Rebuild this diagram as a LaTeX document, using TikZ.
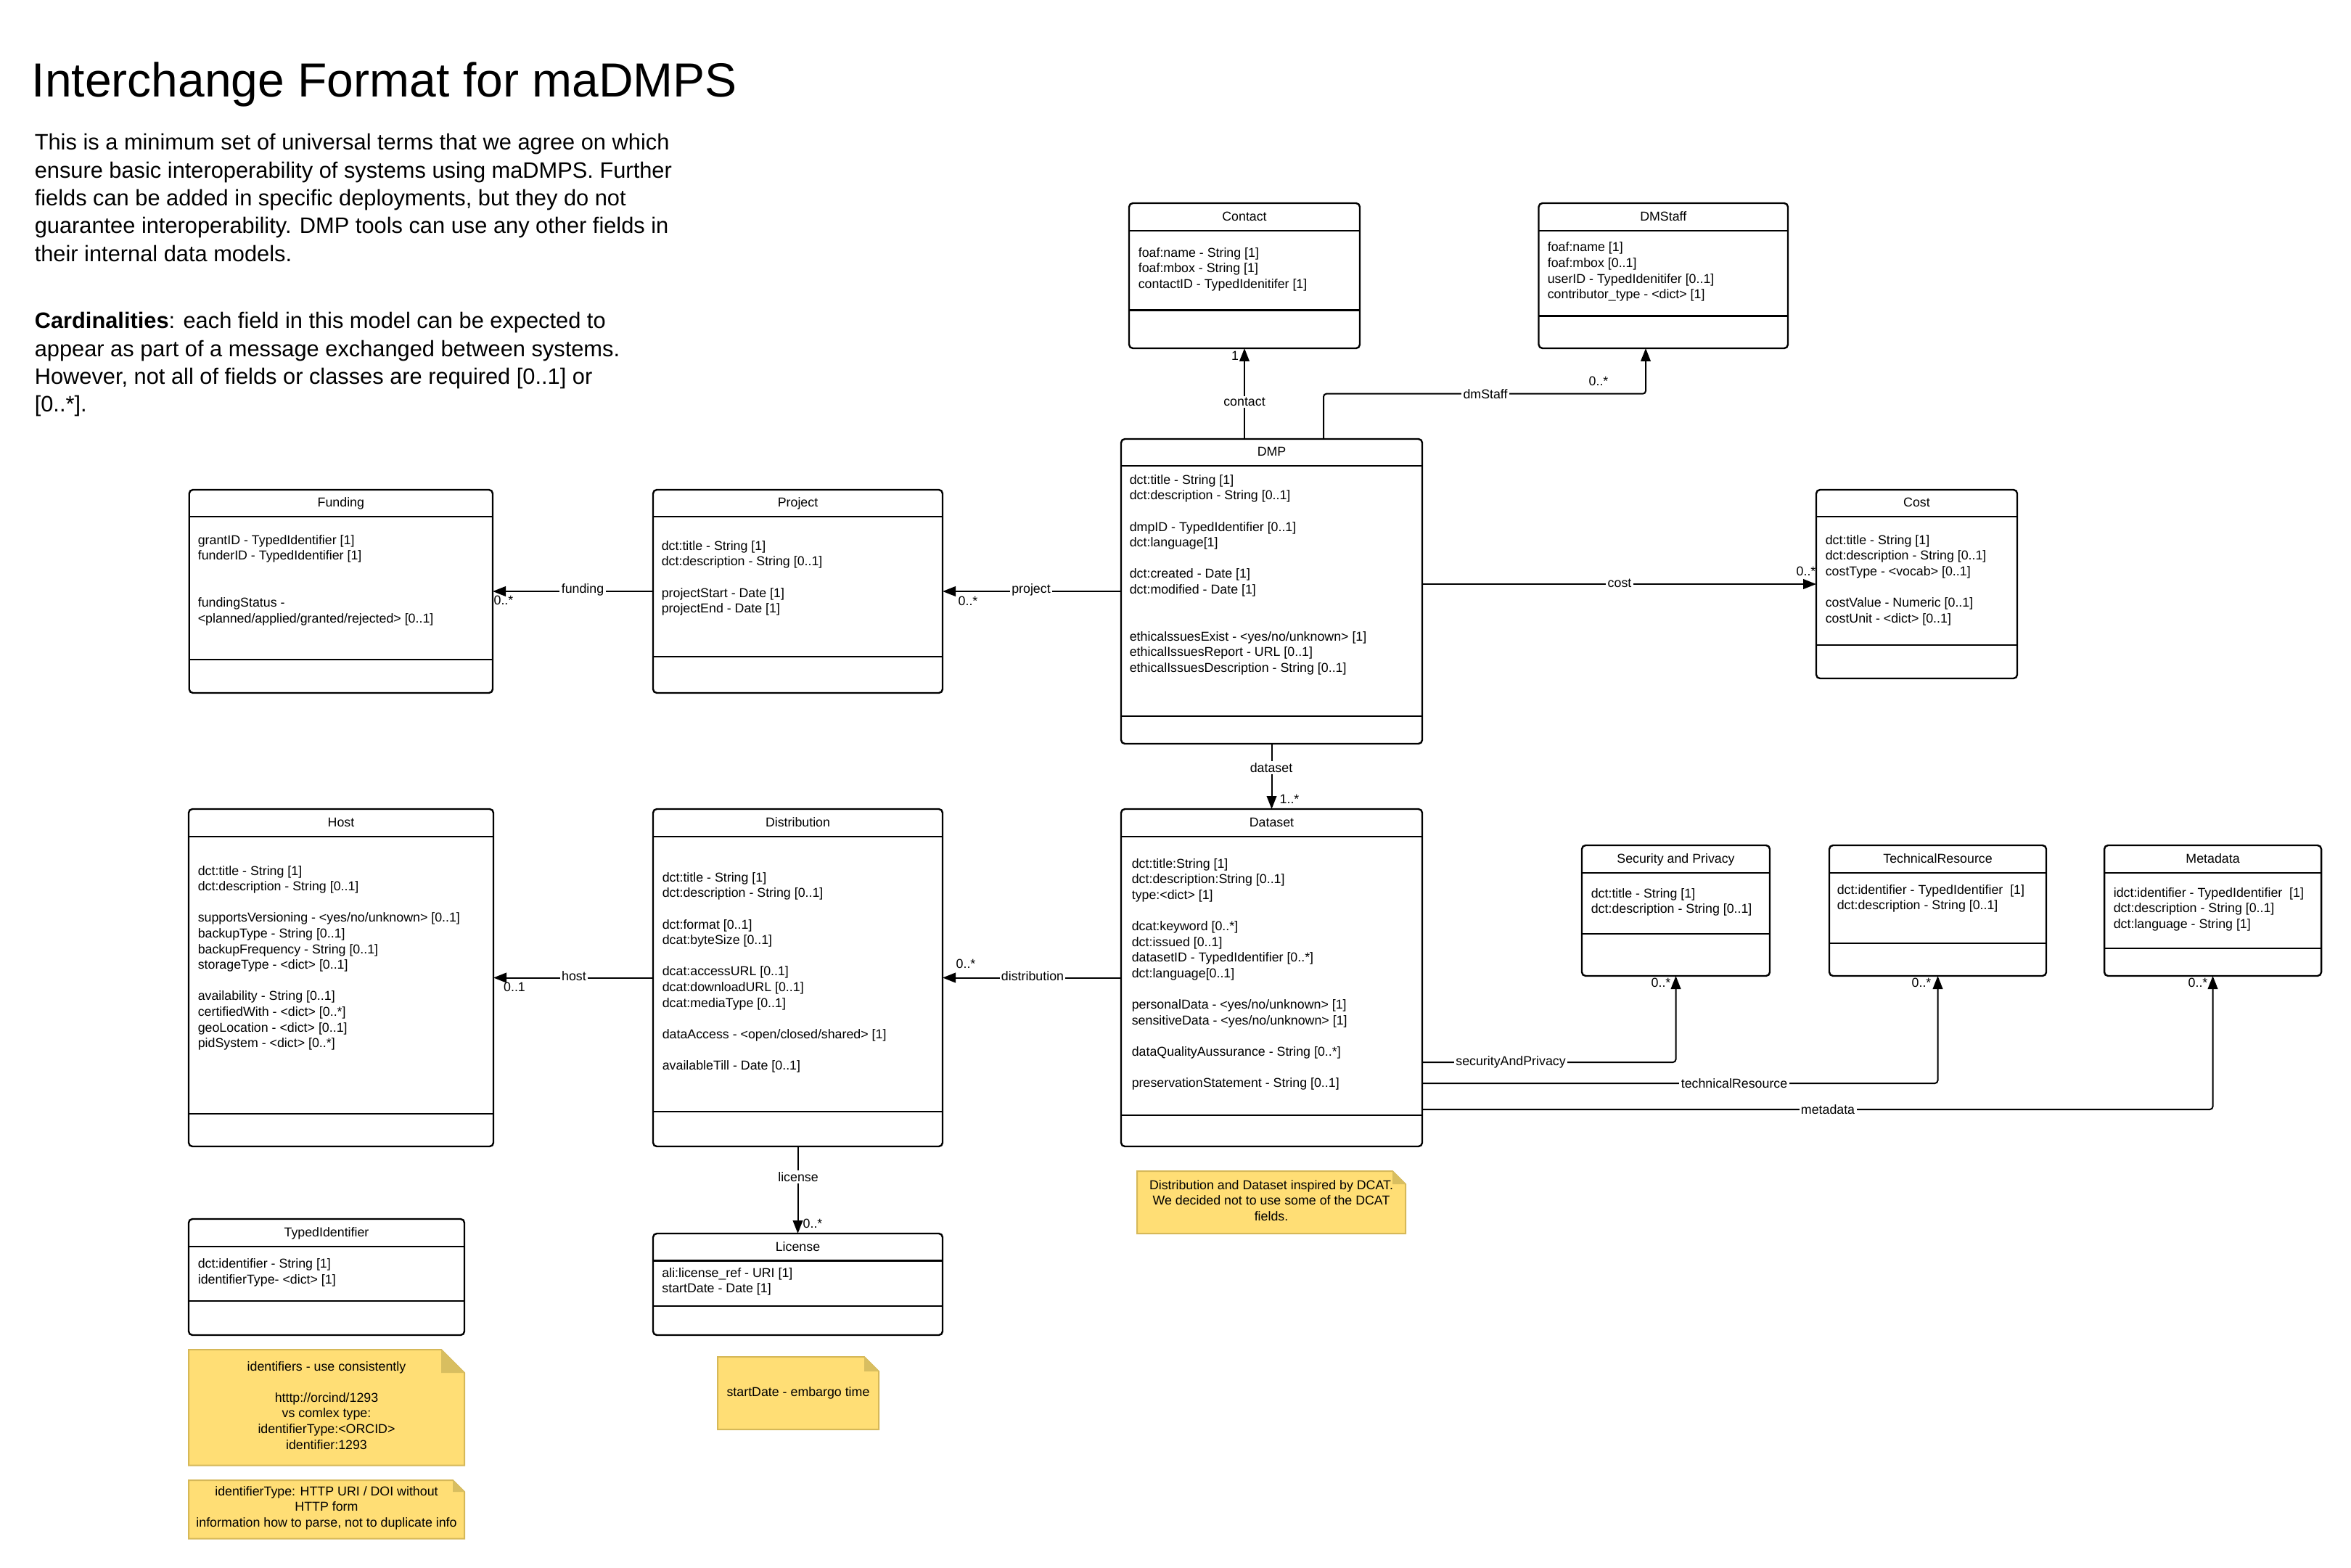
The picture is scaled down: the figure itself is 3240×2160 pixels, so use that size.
\documentclass[tikz,border=0pt]{standalone}
\usepackage{fontspec}
\setmainfont{Liberation Sans}
\usetikzlibrary{arrows.meta}
\definecolor{notefill}{RGB}{255,222,117}
\definecolor{noteborder}{RGB}{214,184,88}
\definecolor{notefold}{RGB}{216,190,96}
\newcommand{\emptyln}{\mbox{}}
\newcommand{\umlclass}[8]{%
  \pgfmathsetmacro{\myW}{(#5-#3)*0.25}%
  \pgfmathsetmacro{\myH}{(#6-#4)*0.25}%
  \node[classbox, anchor=north west, minimum width=\myW pt, minimum height=\myH pt] (#1) at (#3,#4) {};
  \draw[divline] (#3,#7) -- (#5,#7);
  \draw[divline] (#3,#8) -- (#5,#8);
  \node[ttl, anchor=base] (#1-t) at ({(#3+#5)/2},{(#4+#7)/2+5.3}) {#2};
}
\newcommand{\fieldsat}[4]{%
  \node[fld] (#1) at (#2,{#3+5.3}) {\parbox[t]{130pt}{#4}};
}
\newcommand{\notebox}[7]{%
  \path[draw=noteborder, fill=notefill, line width=0.5pt] (#2,#3) -- ({#4-#6},#3) -- (#4,{#3+#6}) -- (#4,#5) -- (#2,#5) -- cycle;
  \fill[notefold] ({#4-#6},#3) -- ({#4-#6},{#3+#6}) -- (#4,{#3+#6}) -- cycle;
  \coordinate (#1) at ({(#2+#4)/2},{(#3+#5)/2});
}
\begin{document}
\begin{tikzpicture}[x=0.25pt,y=-0.25pt,
  classbox/.style={draw, line width=0.6pt, rounded corners=1.3pt, inner sep=0pt, outer sep=0pt, fill=white},
  divline/.style={line width=0.6pt},
  ttl/.style={font=\fontsize{4.45}{5.4}\selectfont, inner sep=0pt},
  fld/.style={font=\fontsize{4.45}{5.4}\selectfont, inner sep=0pt, anchor=base west},
  conn/.style={line width=0.5pt, -{Triangle[length=4.5pt,width=3.4pt]}, rounded corners=1pt},
  lbl/.style={font=\fontsize{4.45}{5.4}\selectfont, fill=white, inner sep=0.6pt},
  card/.style={font=\fontsize{4.45}{5.4}\selectfont, inner sep=0pt},
  notetxt/.style={font=\fontsize{4.45}{5.4}\selectfont, inner sep=0pt, anchor=base}]
\fill[white] (0,0) rectangle (3240,2160);
\useasboundingbox (0,0) rectangle (3240,2160);

% heading texts
\node[anchor=base west, inner sep=0pt, font=\fontsize{16.5}{20}\selectfont] (title) at (43,134) {Interchange Format for maDMPS};
\node[anchor=base west, inner sep=0pt, font=\fontsize{7.7}{9.575}\selectfont] (intro) at (47,207) {\parbox[t]{300pt}{%
This is a minimum set of universal terms that we agree on which\\
ensure basic interoperability of systems using maDMPS. Further\\
fields can be added in specific deployments, but they do not\\
guarantee interoperability. DMP tools can use any other fields in\\
their internal data models.}};
\node[anchor=base west, inner sep=0pt, font=\fontsize{7.7}{9.575}\selectfont] (cardin) at (47,453) {\parbox[t]{300pt}{%
\textbf{Cardinalities}: each field in this model can be expected to\\
appear as part of a message exchanged between systems.\\
However, not all of fields or classes are required [0..1] or\\{}[0..*].}};

% classes
\umlclass{contact}{Contact}{1556}{280}{1874}{480}{318}{427.7}
\fieldsat{contact-f}{1568}{349}{foaf:name - String [1]\\foaf:mbox - String [1]\\contactID - TypedIdenitifer [1]}

\umlclass{dmstaff}{DMStaff}{2120.5}{280}{2464}{480}{318}{435.7}
\fieldsat{dmstaff-f}{2132}{341.7}{foaf:name [1]\\foaf:mbox [0..1]\\userID - TypedIdenitifer [0..1]\\contributor\_type - <dict> [1]}

\umlclass{dmp}{DMP}{1545}{605}{1960}{1025}{642}{987}
\fieldsat{dmp-f}{1556}{662}{dct:title - String [1]\\dct:description - String [0..1]\\\emptyln\\dmpID - TypedIdentifier [0..1]\\dct:language[1]\\\emptyln\\dct:created - Date [1]\\dct:modified - Date [1]\\\emptyln\\\emptyln\\ethicalssuesExist - <yes/no/unknown> [1]\\ethicalIssuesReport - URL [0..1]\\ethicalIssuesDescription - String [0..1]}

\umlclass{funding}{Funding}{260.7}{675}{679}{955}{712}{909}
\fieldsat{funding-f}{272}{745}{grantID - TypedIdentifier [1]\\funderID - TypedIdentifier [1]\\\emptyln\\\emptyln\\fundingStatus -\\<planned/applied/granted/rejected> [0..1]}

\umlclass{project}{Project}{900}{675}{1299}{955}{712}{905}
\fieldsat{project-f}{911}{753}{dct:title - String [1]\\dct:description - String [0..1]\\\emptyln\\projectStart - Date [1]\\projectEnd - Date [1]}

\umlclass{cost}{Cost}{2503}{675}{2780}{935}{712}{889}
\fieldsat{cost-f}{2515}{745}{dct:title - String [1]\\dct:description - String [0..1]\\costType - <vocab> [0..1]\\\emptyln\\costValue - Numeric [0..1]\\costUnit - <dict> [0..1]}

\umlclass{host}{Host}{260}{1115}{680}{1580}{1153}{1535}
\fieldsat{host-f}{272}{1200.7}{dct:title - String [1]\\dct:description - String [0..1]\\\emptyln\\supportsVersioning - <yes/no/unknown> [0..1]\\backupType - String [0..1]\\backupFrequency - String [0..1]\\storageType - <dict> [0..1]\\\emptyln\\availability - String [0..1]\\certifiedWith - <dict> [0..*]\\geoLocation - <dict> [0..1]\\pidSystem - <dict> [0..*]}

\umlclass{distribution}{Distribution}{900}{1115}{1299}{1580}{1153}{1532}
\fieldsat{distribution-f}{912}{1210}{dct:title - String [1]\\dct:description - String [0..1]\\\emptyln\\dct:format [0..1]\\dcat:byteSize [0..1]\\\emptyln\\dcat:accessURL [0..1]\\dcat:downloadURL [0..1]\\dcat:mediaType [0..1]\\\emptyln\\dataAccess - <open/closed/shared> [1]\\\emptyln\\availableTill - Date [0..1]}

\umlclass{dataset}{Dataset}{1545}{1115}{1960}{1580}{1153}{1537}
\fieldsat{dataset-f}{1559}{1191}{dct:title:String [1]\\dct:description:String [0..1]\\type:<dict> [1]\\\emptyln\\dcat:keyword [0..*]\\dct:issued [0..1]\\datasetID - TypedIdentifier [0..*]\\dct:language[0..1]\\\emptyln\\personalData - <yes/no/unknown> [1]\\sensitiveData - <yes/no/unknown> [1]\\\emptyln\\dataQualityAussurance - String [0..*]\\\emptyln\\preservationStatement - String [0..1]}

\umlclass{secpriv}{Security and Privacy}{2180}{1165}{2439}{1345}{1203}{1287}
\fieldsat{secpriv-f}{2192}{1232}{dct:title - String [1]\\dct:description - String [0..1]}

\umlclass{techres}{TechnicalResource}{2521}{1165}{2820}{1345}{1203}{1300}
\fieldsat{techres-f}{2531}{1227}{dct:identifier - TypedIdentifier~ [1]\\dct:description - String [0..1]}

\umlclass{metadata}{Metadata}{2900}{1165}{3199}{1345}{1203}{1307}
\fieldsat{metadata-f}{2912}{1231}{idct:identifier - TypedIdentifier~ [1]\\dct:description - String [0..1]\\dct:language - String [1]}

\umlclass{typedid}{TypedIdentifier}{260}{1680}{640}{1840}{1718}{1793}
\fieldsat{typedid-f}{272}{1742.4}{dct:identifier - String [1]\\identifierType- <dict> [1]}

\umlclass{license}{License}{900}{1700}{1299}{1840}{1737.6}{1799.7}
\fieldsat{license-f}{911.6}{1755}{ali:license\_ref - URI [1]\\startDate - Date [1]}

% connectors
\draw[conn] (dmp.north -| contact.south) -- (contact.south);
\node[lbl] (l-contact) at (1715,554) {contact};
\node[card] (c-contact) at (1702,490) {1};

\coordinate (ds1) at (1824,542.7);
\coordinate (ds2) at (2268,542.7);
\draw[conn] (dmp.north -| ds1) -- (ds1) -- (ds2) -- (dmstaff.south -| ds2);
\node[lbl] (l-dmstaff) at (2047,542.7) {dmStaff};
\node[card] (c-dmstaff) at (2203,525) {0..*};

\draw[conn] (dmp.east |- cost.west) -- (cost.west);
\node[lbl] (l-cost) at (2232,804) {cost};
\node[card] (c-cost) at (2489,787) {0..*};

\draw[conn] (dmp.west) -- (project.east);
\node[lbl] (l-project) at (1421,813) {project};
\node[card] (c-project) at (1334,828) {0..*};

\draw[conn] (project.west) -- (funding.east);
\node[lbl] (l-funding) at (803,813) {funding};
\node[card] (c-funding) at (694,827) {0..*};

\draw[conn] (dmp.south) -- (dataset.north);
\node[lbl] (l-dataset) at (1752,1058) {dataset};
\node[card] (c-dataset) at (1777,1101) {1..*};

\draw[conn] (dataset.west) -- (distribution.east);
\node[lbl] (l-distribution) at (1423,1345) {distribution};
\node[card] (c-distribution) at (1331,1328) {0..*};

\draw[conn] (distribution.west) -- (host.east);
\node[lbl] (l-host) at (791,1345) {host};
\node[card] (c-host) at (709,1360) {0..1};

\draw[conn] (distribution.south) -- (license.north);
\node[lbl] (l-license) at (1100,1622) {license};
\node[card] (c-license) at (1120,1686) {0..*};

\coordinate (spy) at (0,1464);
\coordinate (try) at (0,1493);
\coordinate (mty) at (0,1529);
\draw[conn] (dataset.east |- spy) -| (secpriv.south);
\node[lbl] (l-secpriv) at (2082,1464) {securityAndPrivacy};
\node[card] (c-secpriv) at (2289,1354) {0..*};
\draw[conn] (dataset.east |- try) -| (techres.south);
\node[lbl] (l-techres) at (2390,1493) {technicalResource};
\node[card] (c-techres) at (2648,1354) {0..*};
\draw[conn] (dataset.east |- mty) -| (metadata.south);
\node[lbl] (l-metadata) at (2519,1529) {metadata};
\node[card] (c-metadata) at (3029,1354) {0..*};

% notes
\notebox{note1}{260}{1860}{640}{2019.5}{32}{}
\node[notetxt] (note1-t) at (450,1889) {\parbox[t]{100pt}{\centering identifiers - use consistently\hspace*{8pt}\\\emptyln\\htttp://orcind/1293\\vs comlex type:\\identifierType:<ORCID>\\identifier:1293}};

\notebox{note2}{260}{2040}{640}{2120.5}{16}{}
\node[notetxt] (note2-t) at (450,2061) {\parbox[t]{100pt}{\centering identifierType: HTTP URI / DOI without\hspace*{4pt}\\HTTP form\\information how to parse, not to duplicate info}};

\notebox{note3}{989}{1870}{1211}{1970}{20}{}
\node[notetxt] (note3-t) at (1100,1924) {startDate - embargo time};

\notebox{note4}{1567}{1614}{1937}{1700}{18}{}
\node[notetxt] (note4-t) at (1752,1639.3) {\parbox[t]{100pt}{\centering Distribution and Dataset inspired by DCAT.\hspace*{4pt}\\We decided not to use some of the DCAT\\fields.}};
\end{tikzpicture}
\end{document}
